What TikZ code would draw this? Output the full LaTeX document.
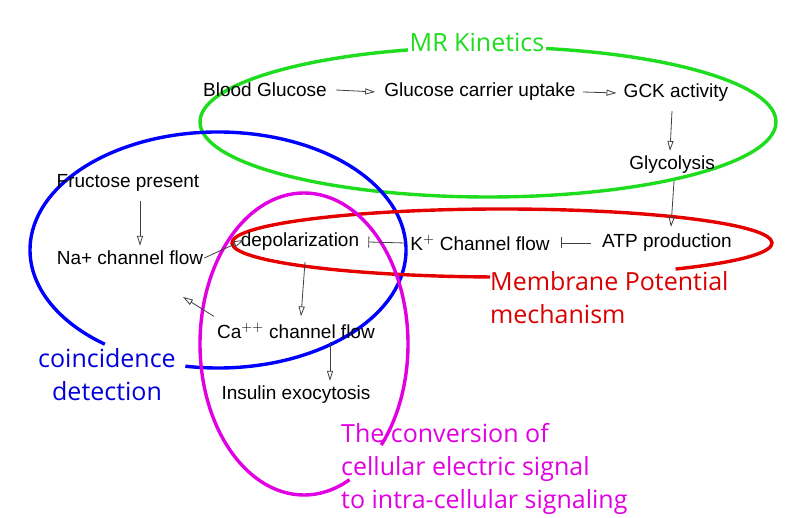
\documentclass[tikz,border=0pt]{standalone}
\usepackage{fontspec}
\setmainfont{Liberation Sans}
\newfontfamily\lab{Open Sans}
\usetikzlibrary{arrows.meta}
\definecolor{grn}{RGB}{30,220,30}
\definecolor{mag}{RGB}{225,0,225}
\begin{document}
\begin{tikzpicture}[x=1pt,y=1pt,
  t/.style={font=\fontsize{19}{23}\selectfont, inner sep=1pt},
  L/.style={font=\lab\fontsize{25}{33}\selectfont, inner sep=0pt},
  ar/.style={draw=black!75, line width=0.8pt, -{Triangle[open,length=10pt,width=6pt]}},
  inh/.style={draw=black!75, line width=0.8pt, -{Bar[width=11pt]}},
  ring/.style={line width=3.4pt}]
\useasboundingbox (0,0) rectangle (812,518);
% rings
\draw[ring,grn] (488,396) ellipse [x radius=288, y radius=75];
\draw[ring,blue] (218,268) ++(-100:188pt and 118pt) arc[start angle=-100,end angle=233,x radius=188,y radius=118];
\draw[ring,red!90!black] (502,275) ++(-50:270pt and 34pt) arc[start angle=-50,end angle=265,x radius=270,y radius=34] -- (490,241);
\draw[ring,mag] (304,174) ++(-42:104pt and 151pt) arc[start angle=-42,end angle=296,x radius=104,y radius=151];
% nodes
\node[t] (bg) at (265,428) {Blood Glucose};
\node[t] (gc) at (480,426) {Glucose carrier uptake};
\node[t] (gck) at (676,425) {GCK activity};
\node[t] (gly) at (672,353) {Glycolysis};
\node[t] (atp) at (667,275) {ATP production};
\node[t] (k) at (480,275) {K$^{+}$ Channel flow};
\node[t] (dep) at (300,276) {depolarization};
\node[t] (fr) at (128,335) {Fructose present};
\node[t] (na) at (130,260) {Na+ channel flow};
\node[t] (ca) at (296,187) {Ca$^{++}$ channel flow};
\node[t] (ins) at (296,123) {Insulin exocytosis};
% labels
\node[L,fill=white,inner sep=2pt,text=grn] (mr) at (477,476) {MR Kinetics};
\node[L,anchor=west,text=red!85!black,align=left] (mp) at (490,220) {Membrane Potential\\mechanism};
\node[L,text=blue!85!black,align=center] (cd) at (107,143) {coincidence\\detection};
\node[L,anchor=north west,text=mag,align=left] (cv) at (341,95) {The conversion of\\cellular electric signal\\to intra-cellular signaling};
% connectors
\draw[ar] (bg.east)++(8,0) -- ([xshift=-8pt]gc.west);
\draw[ar] (gc.east)++(6,0) -- ([xshift=-6pt]gck.west);
\draw[ar] ([xshift=-4pt,yshift=-8pt]gck.south) -- ([xshift=-2pt,yshift=4pt]gly.north);
\draw[ar] ([xshift=2pt,yshift=-6pt]gly.south) -- ([xshift=4pt,yshift=6pt]atp.north);
\draw[inh] ([xshift=-10pt]atp.west) -- ([xshift=10pt]k.east);
\draw[inh] ([xshift=-4pt]k.west) -- ([xshift=8pt]dep.east);
\draw[ar] ([xshift=5pt,yshift=-10pt]dep.south) -- ([xshift=5pt,yshift=6pt]ca.north);
\draw[ar] ([xshift=34pt,yshift=-2pt]ca.south) -- ([xshift=34pt,yshift=4pt]ins.north);
\draw[ar] ([xshift=12pt,yshift=-8pt]fr.south) -- ([xshift=10pt,yshift=4pt]na.north);
\draw[ar] (na.east) -- ([xshift=4pt,yshift=2pt]dep.west);
\draw[ar] ([xshift=-2pt,yshift=6pt]ca.north west) -- (183,221);
\end{tikzpicture}
\end{document}
